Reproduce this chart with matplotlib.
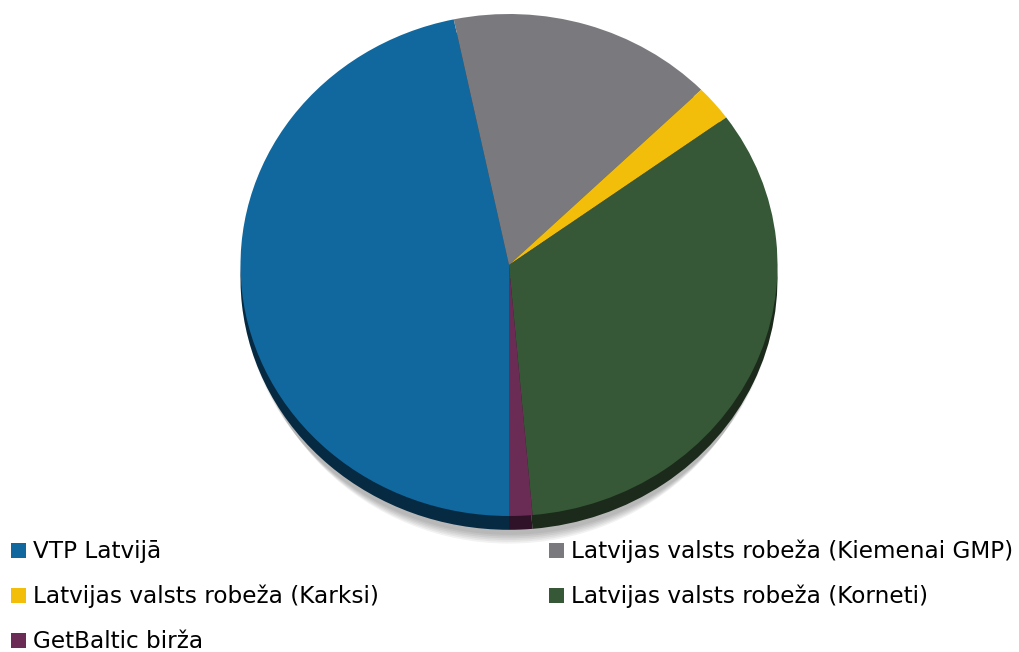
import matplotlib
matplotlib.use("Agg")
import matplotlib.pyplot as plt
from matplotlib.patches import Ellipse, Rectangle

# dati
labels = [
    "VTP Latvijā",
    "Latvijas valsts robeža (Kiemenai GMP)",
    "Latvijas valsts robeža (Karksi)",
    "Latvijas valsts robeža (Korneti)",
    "GetBaltic birža",
]
values = [46.7, 16.0, 2.3, 33.6, 1.4]
colors = ["#10689e", "#7a797e", "#f2be0a", "#365837", "#6a2b55"]
rim_colors = ["#062a42", "#3a393d", "#6e5604", "#1b2a1a", "#301228"]

W, H = 1019, 652
fig = plt.figure(figsize=(W / 100, H / 100), dpi=100)

# pīrāga asis (augšējā virsma)
x0, x1, ytop, ybot = 240.5, 777.5, 14, 516
ax = fig.add_axes([x0 / W, (H - ybot) / H, (x1 - x0) / W, (ybot - ytop) / H])

# mīksta ēna zem pīrāga
for k in range(6):
    ax.add_patch(Ellipse((0.0, -0.075 - 0.004 * k), 1.99 - 0.01 * k,
                         2.0 + 0.006 * k,
                         facecolor="black", edgecolor="none", alpha=0.05,
                         zorder=0))

# tumšā mala (3D efekts)
ax.pie(values, colors=rim_colors, startangle=270, counterclock=False,
       center=(0, -0.055), wedgeprops=dict(linewidth=0), frame=True)
wedges, _ = ax.pie(values, colors=colors, startangle=270, counterclock=False,
                   wedgeprops=dict(linewidth=0), frame=True)

ax.set_aspect("auto")
ax.set_xlim(-1, 1)
ax.set_ylim(-1, 1)
ax.axis("off")
for p in ax.patches:
    p.set_clip_on(False)

# leģenda
fs = 16.7
col_x = [11, 549]
base_y = [558, 603, 648]
for i, (lab, c) in enumerate(zip(labels, colors)):
    col, row = i % 2, i // 2
    sx = col_x[col]
    by = base_y[row]
    fig.patches.append(Rectangle((sx / W, (H - by) / H), 15 / W, 15 / H,
                                 transform=fig.transFigure, facecolor=c,
                                 edgecolor="none"))
    fig.text((sx + 22) / W, (H - by) / H, lab, fontsize=fs,
             family="DejaVu Sans", color="black", va="baseline", ha="left")

fig.savefig("out.png", dpi=100)
